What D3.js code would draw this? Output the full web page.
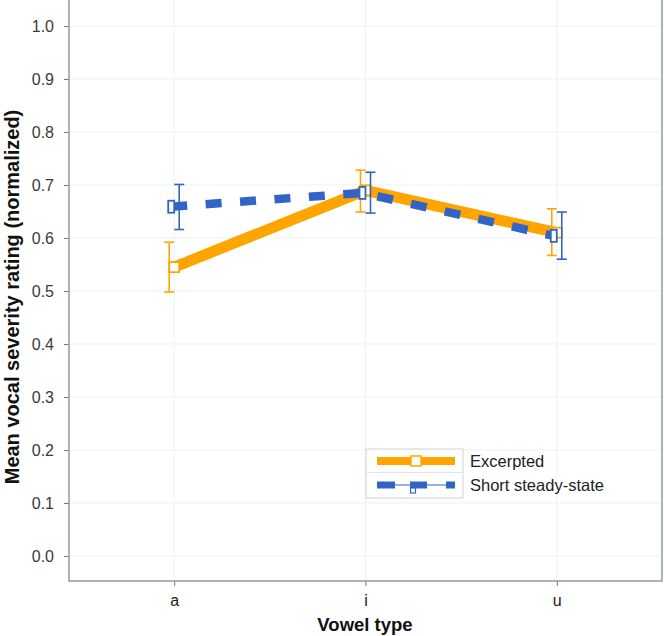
<!DOCTYPE html>
<html><head><meta charset="utf-8">
<script src="https://cdn.jsdelivr.net/npm/d3@7"></script>
<style>body{margin:0;background:#fff}svg{display:block;font-family:"Liberation Sans",Arial,sans-serif}</style>
</head><body><svg id="c" width="664" height="636"></svg>
<script>
const categories = ["a","i","u"];
const excerptedMean = [0.545, 0.690, 0.610];
const excerptedLo   = [0.498, 0.649, 0.567];
const excerptedHi   = [0.592, 0.728, 0.655];
const shortMean = [0.659, 0.685, 0.604];
const shortLo   = [0.616, 0.647, 0.560];
const shortHi   = [0.701, 0.724, 0.649];
const yTicks = [0,0.1,0.2,0.3,0.4,0.5,0.6,0.7,0.8,0.9,1.0];
const seriesNames = ["Excerpted","Short steady-state"];

const svg = d3.select("#c");
const L=69, R=662, T=0, B=581;
const x = d3.scaleLinear().domain([0.45,3.55]).range([L,R]);
const y = d3.scaleLinear().domain([-0.0472,1.049]).range([B,T]);
const ORANGE="#ffa500", BLUE="#3264c8";

// grid
const g = svg.append("g");
g.selectAll(".hg").data(yTicks).enter().append("line")
  .attr("x1",L).attr("x2",R).attr("y1",d=>y(d)).attr("y2",d=>y(d))
  .attr("stroke","#edf1f1").attr("stroke-width",1);
g.selectAll(".vg").data(categories).enter().append("line")
  .attr("x1",(d,i)=>x(i+1)).attr("x2",(d,i)=>x(i+1)).attr("y1",T).attr("y2",B)
  .attr("stroke","#edf1f1").attr("stroke-width",1);

// axes
const yAxis = d3.axisLeft(y).tickValues(yTicks).tickFormat(d3.format(".1f")).tickSize(5).tickPadding(10);
const ya = svg.append("g").attr("transform",`translate(${L},0)`).call(yAxis);
ya.select(".domain").remove();
ya.selectAll(".tick line").attr("stroke","#6f7b7b");
ya.selectAll("text").attr("font-size",16).attr("fill","#3a3a3a");

const xAxis = d3.axisBottom(x).tickValues([1,2,3]).tickFormat((d)=>categories[d-1]).tickSize(5).tickPadding(9);
const xa = svg.append("g").attr("transform",`translate(0,${B})`).call(xAxis);
xa.select(".domain").remove();
xa.selectAll(".tick line").attr("stroke","#6f7b7b");
xa.selectAll("text").attr("font-size",16).attr("fill","#222");

// frame
svg.append("path").attr("d",`M${L},${T}V${B}H${R}V${T}`).attr("fill","none").attr("stroke","#8d9c9c").attr("stroke-width",1.5);

// labels
svg.append("text").attr("transform",`translate(19,${297}) rotate(-90)`).attr("text-anchor","middle")
  .attr("font-size",20).attr("font-weight","bold").attr("fill","#111").text("Mean vocal severity rating (normalized)");
svg.append("text").attr("x",365).attr("y",631).attr("text-anchor","middle")
  .attr("font-size",18.5).attr("font-weight","bold").attr("fill","#111").text("Vowel type");

function drawSeries(mean, lo, hi, color, ebOff, mkOff, lineW, dash, mw, mh){
  const gg = svg.append("g");
  const line = d3.line().x((d,i)=>x(i+1)+mkOff).y(d=>y(d));
  gg.append("path").datum(mean).attr("d",line).attr("fill","none").attr("stroke",color)
    .attr("stroke-width",lineW).attr("stroke-dasharray",dash||null).attr("stroke-linejoin","round");
  mean.forEach((m,i)=>{
    const cx = x(i+1)+ebOff;
    gg.append("line").attr("x1",cx).attr("x2",cx).attr("y1",y(lo[i])).attr("y2",y(hi[i])).attr("stroke",color).attr("stroke-width",1.6);
    [lo[i],hi[i]].forEach(v=>gg.append("line").attr("x1",cx-5).attr("x2",cx+5).attr("y1",y(v)).attr("y2",y(v)).attr("stroke",color).attr("stroke-width",1.6));
    gg.append("rect").attr("x",x(i+1)+mkOff-mw/2).attr("y",y(m)-mh/2).attr("width",mw).attr("height",mh)
      .attr("fill","#fff").attr("stroke",color).attr("stroke-width",1.8);
  });
}
drawSeries(excerptedMean, excerptedLo, excerptedHi, ORANGE, -5, 0, 11, null, 10, 10);
drawSeries(shortMean, shortLo, shortHi, BLUE, 5, -3, 8.5, "16,18.5", 6, 12);

// legend
const lg = svg.append("g");
lg.append("rect").attr("x",366).attr("y",449).attr("width",97).attr("height",49).attr("fill","#fff").attr("stroke","#c9d3d3").attr("stroke-width",1);
lg.append("line").attr("x1",366).attr("x2",463).attr("y1",472.5).attr("y2",472.5).attr("stroke","#dfe5e5");
lg.append("line").attr("x1",377).attr("x2",455).attr("y1",461).attr("y2",461).attr("stroke",ORANGE).attr("stroke-width",8);
lg.append("rect").attr("x",411).attr("y",456).attr("width",10).attr("height",10).attr("fill","#fff").attr("stroke",ORANGE).attr("stroke-width",1.5);
lg.append("line").attr("x1",377).attr("x2",455).attr("y1",485).attr("y2",485).attr("stroke",BLUE).attr("stroke-width",1);
[[377,395],[410,427],[446,455]].forEach(s=>lg.append("line").attr("x1",s[0]).attr("x2",s[1]).attr("y1",485).attr("y2",485).attr("stroke",BLUE).attr("stroke-width",7));
lg.append("rect").attr("x",410.5).attr("y",488).attr("width",5).attr("height",5).attr("fill","#fff").attr("stroke",BLUE).attr("stroke-width",1.2);
lg.selectAll(".lt").data(seriesNames).enter().append("text").attr("x",470).attr("y",(d,i)=>467+i*24)
  .attr("font-size",16.5).attr("fill","#222").text(d=>d);
</script></body></html>
